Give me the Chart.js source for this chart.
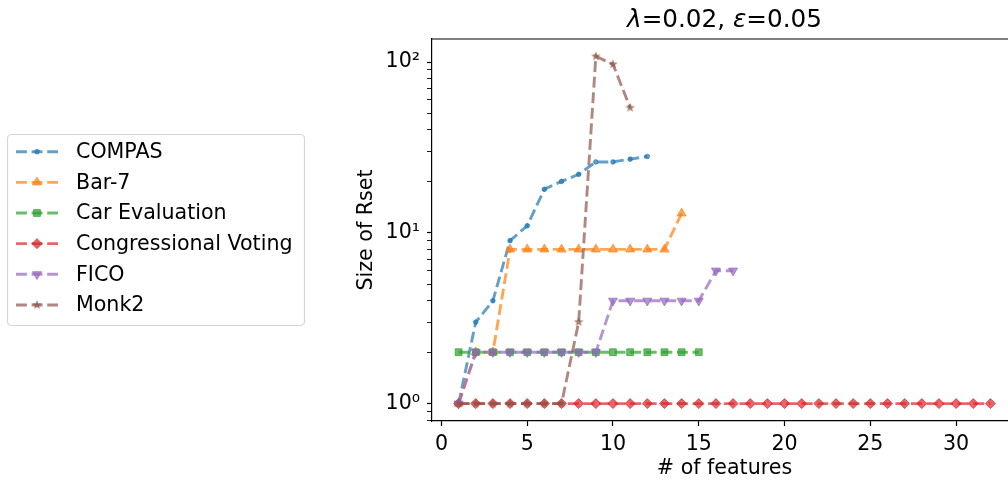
<!DOCTYPE html>
<html>
<head>
<meta charset="utf-8">
<script src="https://cdn.jsdelivr.net/npm/chart.js@4/dist/chart.umd.min.js"></script>
<style>
  html, body { margin: 0; padding: 0; background: #fff; overflow: hidden; width: 1008px; height: 482px; }
  canvas { display: block; }
</style>
</head>
<body>
<canvas id="myChart" width="1030" height="482"></canvas>
<script>
// number of features (x) shared by all series
const featureCounts = [1, 2, 3, 4, 5, 6, 7, 8, 9, 10, 11, 12, 13, 14, 15, 16,
  17, 18, 19, 20, 21, 22, 23, 24, 25, 26, 27, 28, 29, 30, 31, 32];

// size of Rset per dataset
const compasSizes = [1, 3, 4, 9, 11, 18, 20, 22, 26, 26, 27, 28];
const bar7Sizes = [1, 2, 2, 8, 8, 8, 8, 8, 8, 8, 8, 8, 8, 13];
const carSizes = [2, 2, 2, 2, 2, 2, 2, 2, 2, 2, 2, 2, 2, 2, 2];
const congressSizes = [1, 1, 1, 1, 1, 1, 1, 1, 1, 1, 1, 1, 1, 1, 1, 1,
  1, 1, 1, 1, 1, 1, 1, 1, 1, 1, 1, 1, 1, 1, 1, 1];
const ficoSizes = [1, 2, 2, 2, 2, 2, 2, 2, 2, 4, 4, 4, 4, 4, 4, 6, 6];
const monk2Sizes = [1, 1, 1, 1, 1, 1, 1, 3, 108, 97, 54];

const seriesNames = ['COMPAS', 'Bar-7', 'Car Evaluation', 'Congressional Voting', 'FICO', 'Monk2'];
const xTicks = [0, 5, 10, 15, 20, 25, 30];
const yMajorTicks = [1, 10, 100];

const FONT = '"DejaVu Sans", "Liberation Sans", sans-serif';
Chart.defaults.font.family = FONT;
Chart.defaults.font.size = 20.6;
Chart.defaults.color = '#000';

const rgba = (hex, a) => {
  const n = parseInt(hex.slice(1), 16);
  return `rgba(${n >> 16}, ${(n >> 8) & 255}, ${n & 255}, ${a})`;
};

// matplotlib '*' marker
const makeStar = (color) => {
  const c = document.createElement('canvas');
  c.width = 12;
  c.height = 12;
  const g = c.getContext('2d');
  g.fillStyle = color;
  g.beginPath();
  for (let i = 0; i < 10; i++) {
    const r = i % 2 ? 2.1 : 5;
    const a = -Math.PI / 2 + (i * Math.PI) / 5;
    g.lineTo(6 + r * Math.cos(a), 6 + r * Math.sin(a));
  }
  g.closePath();
  g.fill();
  return c;
};

const styles = [
  { color: '#1f77b4', pointStyle: 'circle', radius: 2.3, rotation: 0 },
  { color: '#ff7f0e', pointStyle: 'triangle', radius: 5.2, rotation: 0 },
  { color: '#2ca02c', pointStyle: 'rect', radius: 4.8, rotation: 0 },
  { color: '#d62728', pointStyle: 'rectRot', radius: 5, rotation: 0 },
  { color: '#9467bd', pointStyle: 'triangle', radius: 5.2, rotation: 180 },
  { color: '#8c564b', pointStyle: null, radius: 5, rotation: 0 },
];
styles[5].pointStyle = makeStar(rgba('#8c564b', 0.75));

const allSizes = [compasSizes, bar7Sizes, carSizes, congressSizes, ficoSizes, monk2Sizes];
const DASH = [10.9, 4.7];

const datasets = allSizes.map((sizes, i) => ({
  label: seriesNames[i],
  data: sizes.map((v, k) => ({ x: featureCounts[k], y: v })),
  borderColor: rgba(styles[i].color, 0.7),
  backgroundColor: rgba(styles[i].color, 0.7),
  borderWidth: 2.9,
  borderDash: DASH,
  pointStyle: styles[i].pointStyle,
  pointRadius: styles[i].radius,
  pointRotation: styles[i].rotation,
  pointBorderWidth: 1,
  pointHoverRadius: styles[i].radius,
  tension: 0,
  fill: false,
  order: 5 - i,
}));

const extras = {
  id: 'extras',
  afterDraw(chart) {
    const { ctx, chartArea } = chart;
    ctx.save();
    // top spine
    ctx.strokeStyle = '#000';
    ctx.lineWidth = 1.2;
    ctx.beginPath();
    ctx.moveTo(chartArea.left, chartArea.top);
    ctx.lineTo(chartArea.right, chartArea.top);
    ctx.lineTo(chartArea.right, chartArea.bottom);
    ctx.stroke();

    // title with italic greek letters
    const parts = [['λ', true], ['=0.02, ', false], ['ε', true], ['=0.05', false]];
    const fs = 24.7;
    const fontOf = (it) => `${it ? 'italic ' : ''}${fs}px ${FONT}`;
    let total = 0;
    parts.forEach(([t, it]) => { ctx.font = fontOf(it); total += ctx.measureText(t).width; });
    let x = (chartArea.left + chartArea.right) / 2 - total / 2;
    ctx.fillStyle = '#000';
    ctx.textBaseline = 'middle';
    ctx.textAlign = 'left';
    parts.forEach(([t, it]) => {
      ctx.font = fontOf(it);
      ctx.fillText(t, x, 21);
      x += ctx.measureText(t).width;
    });

    // legend box
    const bx = 7.5, by = 134.5, bw = 297, bh = 191, r = 4;
    ctx.beginPath();
    ctx.moveTo(bx + r, by);
    ctx.arcTo(bx + bw, by, bx + bw, by + bh, r);
    ctx.arcTo(bx + bw, by + bh, bx, by + bh, r);
    ctx.arcTo(bx, by + bh, bx, by, r);
    ctx.arcTo(bx, by, bx + bw, by, r);
    ctx.closePath();
    ctx.fillStyle = 'rgba(255,255,255,0.8)';
    ctx.fill();
    ctx.strokeStyle = '#d6d6d6';
    ctx.lineWidth = 1.2;
    ctx.stroke();

    ctx.font = `20.6px ${FONT}`;
    seriesNames.forEach((name, i) => {
      const y = 151.7 + i * 30.65;
      const col = rgba(styles[i].color, 0.7);
      ctx.strokeStyle = col;
      ctx.fillStyle = col;
      ctx.lineWidth = 2.9;
      ctx.setLineDash(DASH);
      ctx.beginPath();
      ctx.moveTo(16, y);
      ctx.lineTo(58, y);
      ctx.stroke();
      ctx.setLineDash([]);
      ctx.lineWidth = 1;
      Chart.helpers.drawPoint(ctx, {
        pointStyle: styles[i].pointStyle,
        rotation: styles[i].rotation,
        radius: styles[i].radius,
        borderWidth: 1,
      }, 37, y);
      ctx.fillStyle = '#000';
      ctx.fillText(name, 76, y + 1);
    });
    ctx.restore();
  },
};

new Chart(document.getElementById('myChart').getContext('2d'), {
  type: 'line',
  data: { datasets },
  options: {
    responsive: false,
    animation: false,
    layout: { padding: { left: 350, top: 39, right: 13, bottom: 0 } },
    plugins: { legend: { display: false }, title: { display: false }, tooltip: { enabled: false } },
    scales: {
      x: {
        type: 'linear',
        min: -0.55,
        max: 33.55,
        afterFit: (s) => { s.height = 61; },
        afterBuildTicks: (s) => { s.ticks = xTicks.map((v) => ({ value: v })); },
        grid: { display: true, drawOnChartArea: false, tickLength: 5, tickColor: '#000', tickWidth: 1.2 },
        border: { color: '#000', width: 1.2 },
        ticks: { padding: 6, maxRotation: 0, autoSkip: false },
        title: { display: true, text: '# of features', padding: { top: 0, bottom: 1 } },
      },
      y: {
        type: 'logarithmic',
        min: 0.791,
        max: 136.4,
        afterFit: (s) => { s.width = 82; },
        afterBuildTicks: (s) => {
          const t = [];
          [0.1, 1, 10, 100].forEach((d) => {
            for (let m = 1; m < 10; m++) {
              const v = d * m;
              if (v >= 0.791 && v <= 136.4) t.push({ value: v, major: yMajorTicks.includes(Math.round(v * 1000) / 1000) });
            }
          });
          s.ticks = t;
        },
        grid: {
          display: true,
          drawOnChartArea: false,
          tickLength: 5,
          tickColor: '#000',
          tickWidth: (c) => (c.tick && c.tick.major ? 1.2 : 0.9),
        },
        border: { color: '#000', width: 1.2 },
        ticks: {
          padding: 7,
          autoSkip: false,
          callback: (v) => {
            const k = yMajorTicks.indexOf(Math.round(v * 1000) / 1000);
            return k < 0 ? '' : '10' + ['⁰', '¹', '²'][k];
          },
        },
        title: { display: true, text: 'Size of Rset', padding: { top: 4, bottom: 0 } },
      },
    },
  },
  plugins: [extras],
});
</script>
</body>
</html>
